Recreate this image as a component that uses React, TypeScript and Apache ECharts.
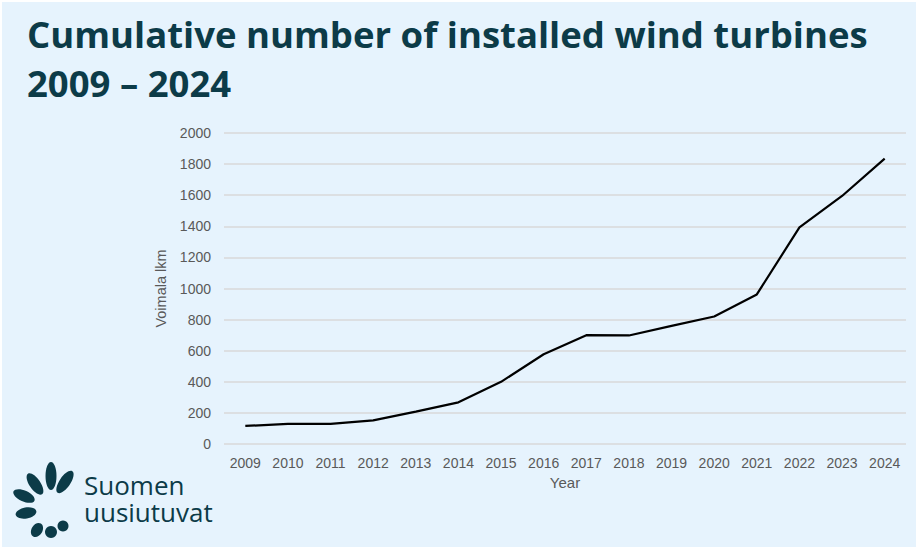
import React, { useEffect, useRef } from "react";
import * as echarts from "echarts";

const years = ["2009","2010","2011","2012","2013","2014","2015","2016","2017","2018","2019","2020","2021","2022","2023","2024"];
const turbines = [116, 129, 130, 152, 208, 268, 400, 577, 700, 698, 760, 820, 962, 1393, 1595, 1835];
const yTicks = { min: 0, max: 2000, interval: 200 };
const titleLines = ["Cumulative number of installed wind turbines", "2009 – 2024"];
const logoWords = ["Suomen", "uusiutuvat"];

const DARK = "#0c3b48";

export default function App() {
  const ref = useRef<HTMLDivElement>(null);
  useEffect(() => {
    if (!ref.current) return;
    const chart = echarts.init(ref.current, null, { renderer: "svg" });
    const petals = [
      { x: 49, y: 474, rx: 5.5, ry: 14, r: 0 },
      { x: 63, y: 480, rx: 5.5, ry: 13, r: -0.6 },
      { x: 33, y: 482, rx: 5.5, ry: 12.5, r: 0.6 },
      { x: 22, y: 494, rx: 5.5, ry: 11.5, r: 1.15 },
      { x: 24, y: 511, rx: 5.5, ry: 10.5, r: 1.75 },
      { x: 35, y: 528, rx: 5.5, ry: 7.5, r: 2.6 },
    ];
    chart.setOption({
      animation: false,
      backgroundColor: "#e6f3fd",
      title: {
        text: titleLines.join("\n"),
        left: 20,
        top: 2,
        textStyle: {
          fontFamily: "Open Sans",
          fontWeight: "bold",
          fontSize: 36.5,
          lineHeight: 49,
          color: DARK,
        },
      },
      grid: { left: 222, right: 10, top: 131, bottom: 103, containLabel: false },
      xAxis: {
        type: "category",
        data: years,
        boundaryGap: true,
        name: "Year",
        nameLocation: "middle",
        nameGap: 23,
        nameTextStyle: { fontFamily: "Liberation Sans", fontSize: 15, color: "#595959" },
        axisLine: { show: false },
        axisTick: { show: false },
        axisLabel: { fontFamily: "Liberation Sans", fontSize: 14, color: "#595959", margin: 12 },
      },
      yAxis: {
        type: "value",
        min: yTicks.min,
        max: yTicks.max,
        interval: yTicks.interval,
        name: "Voimala lkm",
        nameLocation: "middle",
        nameGap: 42,
        nameTextStyle: { fontFamily: "Liberation Sans", fontSize: 14.5, color: "#595959" },
        axisLine: { show: false },
        axisTick: { show: false },
        axisLabel: {
          fontFamily: "Liberation Sans",
          fontSize: 14,
          color: "#595959",
          margin: 13,
          formatter: (v: number) => String(v),
        },
        splitLine: { lineStyle: { color: "#d9d9d9", width: 1.5 } },
      },
      series: [
        {
          type: "line",
          data: turbines,
          showSymbol: false,
          lineStyle: { color: "#000000", width: 2.2 },
          itemStyle: { color: "#000000" },
        },
      ],
      graphic: [
        ...petals.map((p) => ({
          type: "ellipse",
          x: p.x,
          y: p.y,
          rotation: p.r,
          shape: { cx: 0, cy: 0, rx: p.rx, ry: p.ry },
          style: { fill: DARK },
        })),
        { type: "circle", shape: { cx: 49, cy: 530, r: 6 }, style: { fill: DARK } },
        { type: "circle", shape: { cx: 61, cy: 524, r: 5.5 }, style: { fill: DARK } },
        {
          type: "text",
          x: 82,
          y: 469,
          style: {
            text: logoWords.join("\n"),
            fontFamily: "Open Sans",
            fontSize: 26,
            lineHeight: 27,
            fill: DARK,
          },
        },
      ],
    });
    return () => chart.dispose();
  }, []);
  return (
    <div style={{ position: "fixed", left: 0, top: 0, width: 916, height: 547, background: "#ffffff" }}>
      <div ref={ref} style={{ position: "absolute", left: 2, top: 2, width: 914, height: 545 }} />
    </div>
  );
}
